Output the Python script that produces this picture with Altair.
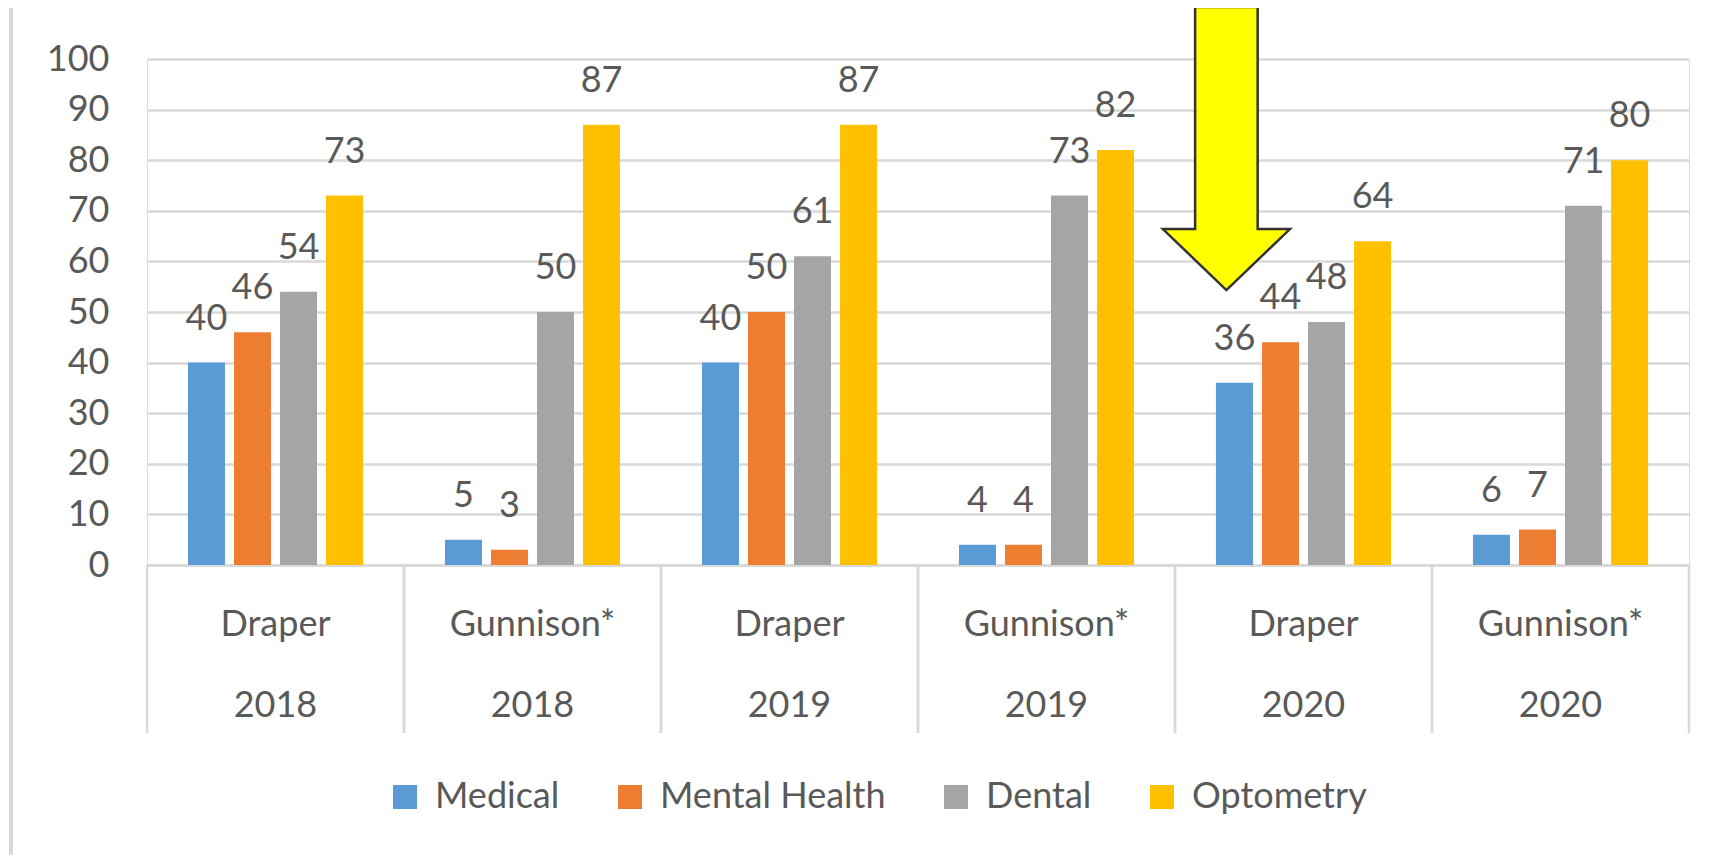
import altair as alt
import pandas as pd

# ---- data ----
sites = ["Draper", "Gunnison*", "Draper", "Gunnison*", "Draper", "Gunnison*"]
years = ["2018", "2018", "2019", "2019", "2020", "2020"]
services = ["Medical", "Mental Health", "Dental", "Optometry"]
medical = [40, 5, 40, 4, 36, 6]
mental_health = [46, 3, 50, 4, 44, 7]
dental = [54, 50, 61, 73, 48, 71]
optometry = [73, 87, 87, 82, 64, 80]
colors = ["#5B9BD5", "#ED7D31", "#A5A5A5", "#FFC000"]
y_ticks = [0, 10, 20, 30, 40, 50, 60, 70, 80, 90, 100]

# highlight arrow annotation (points down at Draper 2020)
arrow_group = ["Draper|2020"]
arrow_value = [82.3]

groups = [f"{s}|{y}" for s, y in zip(sites, years)]
series = {"Medical": medical, "Mental Health": mental_health,
          "Dental": dental, "Optometry": optometry}
rows = []
for i, g in enumerate(groups):
    for s in services:
        rows.append({"group": g, "service": s, "value": series[s][i]})
df = pd.DataFrame(rows)
sep_df = pd.DataFrame({"group": groups})
arrow_df = pd.DataFrame({"group": arrow_group, "value": arrow_value})
frame_df = pd.DataFrame({"k": [0]})

W, H = 1542, 506
TXT = "#595959"
GRID = "#D9D9D9"
FONT = "Lato"

x_enc = alt.X(
    "group:N", sort=groups,
    scale=alt.Scale(paddingInner=0, paddingOuter=0),
    axis=alt.Axis(title=None, labelExpr="split(datum.label, '|')", labelAngle=0,
                  labelAlign="center",
                  labelFontSize=36, labelColor=TXT, labelFont=FONT, labelPadding=42,
                  labelLineHeight=81, labelBaseline="top", labelOverlap=False,
                  labelLimit=400, ticks=False, domainColor=GRID, domainWidth=3,
                  grid=False),
)
y_enc = alt.Y(
    "value:Q",
    scale=alt.Scale(domain=[0, 100], nice=False),
    axis=alt.Axis(title=None, values=y_ticks, grid=True, gridColor=GRID, gridWidth=2.5,
                  ticks=False, domain=False, labelFontSize=36, labelColor=TXT,
                  labelFont=FONT, labelPadding=38),
)
xo_enc = alt.XOffset("service:N", sort=services,
                     scale=alt.Scale(paddingInner=0.196, paddingOuter=0.89))
color_enc = alt.Color(
    "service:N", sort=services,
    scale=alt.Scale(domain=services, range=colors),
    legend=alt.Legend(title=None, orient="none", legendX=240, legendY=720,
                      direction="horizontal", symbolType="square", symbolSize=576,
                      symbolStrokeWidth=0, labelFontSize=36, labelFont=FONT,
                      labelColor=TXT, labelOffset=12, columnPadding=52, padding=0,
                      labelLimit=400),
)

frame = alt.Chart(frame_df).mark_rect(fill="transparent", stroke=GRID, strokeWidth=4).encode(
    x=alt.value(-136), x2=alt.value(1700), y=alt.value(-54), y2=alt.value(900)
)

bars = alt.Chart(df).mark_bar().encode(x=x_enc, xOffset=xo_enc, y=y_enc, color=color_enc)

labels = alt.Chart(df).mark_text(dy=-44, fontSize=36, font=FONT, color=TXT,
                                 baseline="middle").encode(
    x=alt.X("group:N", sort=groups), xOffset=xo_enc, y="value:Q", text="value:Q"
)

sep_l = alt.Chart(sep_df).mark_rule(color=GRID, strokeWidth=2.5).encode(
    x=alt.X("group:N", sort=groups, bandPosition=0), y=alt.value(H), y2=alt.value(H + 168)
)
sep_r = alt.Chart(sep_df).mark_rule(color=GRID, strokeWidth=2.5).encode(
    x=alt.X("group:N", sort=groups, bandPosition=1), y=alt.value(H), y2=alt.value(H + 168)
)

ARROW = "M-0.221,-1 L0.221,-1 L0.221,0.569 L0.449,0.569 L0,1 L-0.449,0.569 L-0.221,0.569 Z"
arrow = alt.Chart(arrow_df).mark_point(
    shape=ARROW, size=80089, filled=True, fill="#FFFF00", stroke="#333333",
    strokeWidth=2.5, opacity=1
).encode(x=alt.X("group:N", sort=groups, bandPosition=0.2), y="value:Q")

chart = alt.layer(frame, sep_l, sep_r, bars, labels, arrow).properties(
    width=W, height=H,
    autosize=alt.AutoSizeParams(type="none"),
    padding={"left": 139, "top": 51, "right": 19, "bottom": 290},
    background="white",
).configure_view(strokeWidth=0).configure(font=FONT)

chart.save("out.html", embed_options={"renderer": "svg", "actions": False})
